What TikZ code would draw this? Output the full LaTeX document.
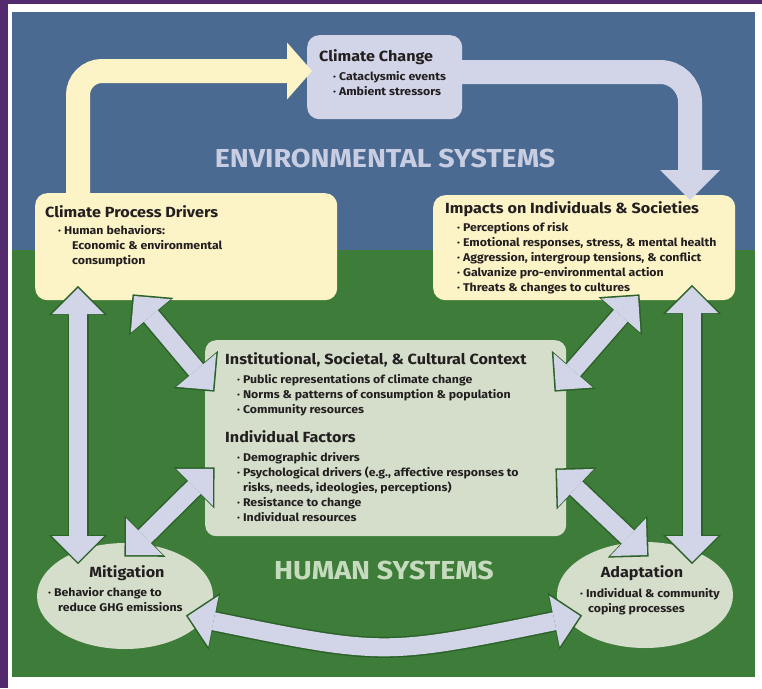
\documentclass[tikz,border=0pt]{standalone}
\usepackage{fontspec}
\setmainfont[FakeStretch=1.1]{Fira Sans}
\usetikzlibrary{arrows.meta,shapes.geometric}
\definecolor{purp}{RGB}{84,42,110}
\definecolor{envblue}{RGB}{75,106,145}
\definecolor{hgreen}{RGB}{62,124,58}
\definecolor{ylw}{RGB}{252,243,199}
\definecolor{lav}{RGB}{210,213,231}
\definecolor{cbox}{RGB}{213,222,203}
\definecolor{agreen}{RGB}{44,98,42}
\definecolor{envtxt}{RGB}{200,205,226}
\definecolor{humtxt}{RGB}{198,219,190}
\definecolor{txt}{RGB}{35,31,32}
\newcommand\ttl{\fontsize{14.7}{17}\selectfont\bfseries}
\newcommand\itm{\fontsize{11.2}{15}\selectfont\bfseries}
\newcommand\blist[1]{\begin{tabular}[t]{@{}l@{}}#1\end{tabular}}
\tikzset{
  ybox/.style={fill=ylw, rounded corners=12pt, inner sep=0pt, anchor=north west},
  lbox/.style={fill=lav, rounded corners=12pt, inner sep=0pt, anchor=north west},
  gbox/.style={fill=cbox, rounded corners=11pt, inner sep=0pt, anchor=north west},
  gell/.style={fill=cbox, ellipse, inner sep=0pt, minimum width=176pt, minimum height=106pt},
  ttlnode/.style={text=txt, inner sep=0pt, anchor=base west, font=\ttl},
  itmnode/.style={text=txt, inner sep=0pt, anchor=base west, font=\itm},
  bigtxt/.style={inner sep=0pt, font=\fontsize{26}{30}\selectfont\bfseries},
  dblout/.style={draw=agreen, line width=21pt,
     {Triangle[width=58pt,length=29pt,line width=0pt]}-{Triangle[width=58pt,length=29pt,line width=0pt]},
     shorten <=-2.2pt, shorten >=-2.2pt},
  dblin/.style={draw=lav, line width=18pt,
     {Triangle[width=52pt,length=26pt,line width=0pt]}-{Triangle[width=52pt,length=26pt,line width=0pt]}},
  yarrow/.style={draw=ylw, line width=24pt, rounded corners=24pt,
     -{Triangle[width=57pt,length=25pt,line width=0pt]}},
  larrow/.style={draw=lav, line width=24pt, rounded corners=30pt,
     -{Triangle[width=60pt,length=30pt,line width=0pt]}},
}
\begin{document}
\begin{tikzpicture}[x=1pt,y=-1pt]
\useasboundingbox (0,0) rectangle (762,688);
% frame and backgrounds
\fill[white] (0,0) rectangle (762,688);
\fill[purp] (0,0) rectangle (8,688);
\fill[purp] (0,0) rectangle (762,4);
\fill[envblue] (12,12) rectangle (755,250);
\fill[hgreen] (12,250) rectangle (755,677);

% boxes
\node[lbox, minimum width=155pt, minimum height=84pt] (cc) at (307,35) {};
\node[ybox, minimum width=302pt, minimum height=107pt] (cpd) at (35,193) {};
\node[ybox, minimum width=302pt, minimum height=105pt] (imp) at (433,195) {};
\node[gbox, minimum width=361pt, minimum height=196pt] (ctx) at (205,340) {};
\node[gell] (mit) at (125,596) {};
\node[gell] (ada) at (645,595) {};

% big arrows in the environmental band
\coordinate (ystart) at (78,197);
\coordinate (yend) at (312,71);
\draw[yarrow] (ystart) |- (yend);
\coordinate (lstart) at (455,72);
\coordinate (lend) at (690,200);
\draw[larrow] (lstart) -| (lend);

% double arrows
\coordinate (lvA) at (78,288);   \coordinate (lvB) at (78,562);
\coordinate (rvA) at (692,287);  \coordinate (rvB) at (692,562);
\coordinate (luA) at (134,296);  \coordinate (luB) at (213,390);
\coordinate (llA) at (213,469);  \coordinate (llB) at (126,555);
\coordinate (ruA) at (638,296);  \coordinate (ruB) at (556,390);
\coordinate (rlA) at (557,470);  \coordinate (rlB) at (647,555);
\coordinate (bA) at (188,616);   \coordinate (bB) at (580,616);
\foreach \a/\b in {lvA/lvB, rvA/rvB, luA/luB, llA/llB, ruA/ruB, rlA/rlB}{
  \draw[dblout] (\a) -- (\b);
  \draw[dblin] (\a) -- (\b);
}
\draw[dblout] (bA) .. controls (384,656) .. (bB);
\draw[dblin] (bA) .. controls (384,656) .. (bB);

% system labels
\node[bigtxt, text=envtxt] (envlbl) at (385,158) {ENVIRONMENTAL SYSTEMS};
\node[bigtxt, text=humtxt] (humlbl) at (384,570) {HUMAN SYSTEMS};

% texts
\node[ttlnode] (cct) at (319,61) {Climate Change};
\node[itmnode] (ccl) at (333,80) {\blist{· Cataclysmic events\\ · Ambient stressors}};

\node[ttlnode] (cpdt) at (45,217) {Climate Process Drivers};
\node[itmnode] (cpdl) at (58,234) {\blist{· Human behaviors:\\ \hspace*{14pt}Economic \& environmental\\ \hspace*{14pt}consumption}};

\node[ttlnode] (impt) at (445,213) {Impacts on Individuals \& Societies};
\node[itmnode] (impl) at (457,231) {\blist{· Perceptions of risk\\ · Emotional responses, stress, \& mental health\\ · Aggression, intergroup tensions, \& conflict\\ · Galvanize pro-environmental action\\ · Threats \& changes to cultures}};

\node[ttlnode] (ctxt) at (225,364) {Institutional, Societal, \& Cultural Context};
\node[itmnode] (ctxl) at (237,383) {\blist{· Public representations of climate change\\ · Norms \& patterns of consumption \& population\\ · Community resources}};
\node[ttlnode] (indt) at (225,442) {Individual Factors};
\node[itmnode] (indl) at (237,461) {\blist{· Demographic drivers\\ · Psychological drivers (e.g., affective responses to\\ \hphantom{· }risks, needs, ideologies, perceptions)\\ · Resistance to change\\ · Individual resources}};

\node[ttlnode, anchor=base] (mitt) at (127,577) {Mitigation};
\node[itmnode] (mitl1) at (48,596) {· Behavior change to};
\node[itmnode] (mitl2) at (58,611) {reduce GHG emissions};

\node[ttlnode, anchor=base] (adat) at (642,577) {Adaptation};
\node[itmnode] (adal1) at (580,597) {· Individual \& community};
\node[itmnode] (adal2) at (588,612) {coping processes};
\end{tikzpicture}
\end{document}
